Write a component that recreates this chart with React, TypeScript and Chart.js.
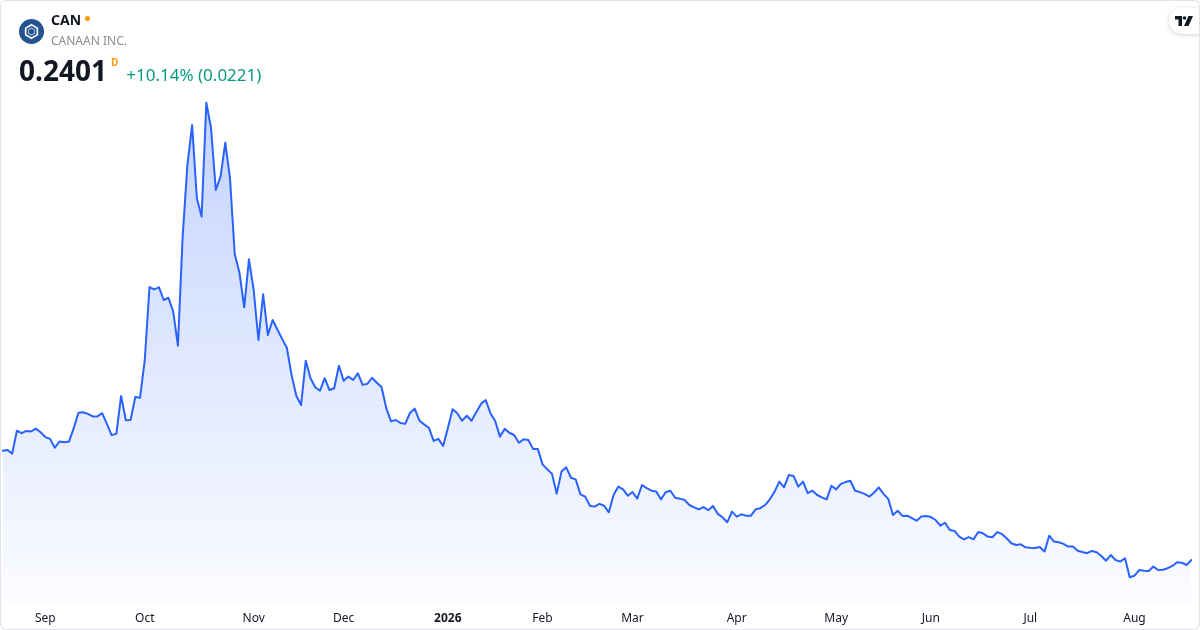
import { useEffect, useRef } from "react"
import { Chart, registerables } from "chart.js"

Chart.register(...registerables)

const FONT = "'Noto Sans', 'Open Sans', sans-serif"

// first session on the chart and the US market holidays inside the range
const firstSession = "2025-08-19"
const holidays = [
  "2025-09-01", "2025-11-27", "2025-12-25", "2026-01-01", "2026-01-19",
  "2026-02-16", "2026-04-03", "2026-05-25", "2026-06-19", "2026-07-03",
]

// daily closes, CAN
const prices = [
  0.721, 0.724, 0.708, 0.809, 0.798, 0.808, 0.806, 0.818, 0.802, 0.781,
  0.773, 0.734, 0.761, 0.758, 0.761, 0.820, 0.888, 0.890, 0.883, 0.872,
  0.872, 0.886, 0.839, 0.790, 0.795, 0.962, 0.855, 0.856, 0.957, 0.954,
  1.120, 1.441, 1.431, 1.440, 1.384, 1.394, 1.333, 1.183, 1.663, 1.978,
  2.154, 1.832, 1.751, 2.252, 2.140, 1.868, 1.927, 2.076, 1.920, 1.585,
  1.504, 1.352, 1.563, 1.428, 1.208, 1.409, 1.230, 1.296, 1.254, 1.213,
  1.174, 1.054, 0.963, 0.922, 1.117, 1.040, 1.000, 0.985, 1.040, 0.988,
  0.996, 1.095, 1.029, 1.047, 1.032, 1.062, 1.011, 1.015, 1.042, 1.020,
  1.001, 0.908, 0.850, 0.856, 0.843, 0.839, 0.887, 0.906, 0.853, 0.837,
  0.822, 0.764, 0.773, 0.742, 0.820, 0.903, 0.886, 0.853, 0.875, 0.853,
  0.890, 0.927, 0.944, 0.886, 0.852, 0.783, 0.817, 0.800, 0.790, 0.756,
  0.771, 0.768, 0.729, 0.729, 0.661, 0.639, 0.619, 0.532, 0.629, 0.648,
  0.602, 0.595, 0.529, 0.519, 0.479, 0.475, 0.487, 0.479, 0.450, 0.526,
  0.563, 0.551, 0.523, 0.539, 0.510, 0.570, 0.556, 0.545, 0.542, 0.507,
  0.538, 0.545, 0.514, 0.510, 0.504, 0.482, 0.472, 0.463, 0.473, 0.459,
  0.478, 0.443, 0.428, 0.406, 0.453, 0.431, 0.441, 0.435, 0.435, 0.463,
  0.468, 0.482, 0.507, 0.541, 0.585, 0.560, 0.614, 0.610, 0.563, 0.585,
  0.534, 0.545, 0.526, 0.516, 0.507, 0.567, 0.551, 0.575, 0.583, 0.589,
  0.545, 0.539, 0.531, 0.519, 0.536, 0.560, 0.531, 0.509, 0.438, 0.457,
  0.434, 0.435, 0.424, 0.413, 0.431, 0.434, 0.429, 0.416, 0.391, 0.404,
  0.372, 0.368, 0.343, 0.331, 0.341, 0.331, 0.363, 0.358, 0.343, 0.340,
  0.363, 0.355, 0.336, 0.314, 0.306, 0.309, 0.296, 0.294, 0.293, 0.297,
  0.277, 0.347, 0.321, 0.318, 0.311, 0.299, 0.299, 0.281, 0.275, 0.270,
  0.280, 0.274, 0.258, 0.237, 0.262, 0.240, 0.233, 0.248, 0.164, 0.171,
  0.196, 0.193, 0.192, 0.211, 0.196, 0.197, 0.204, 0.214, 0.230, 0.228,
  0.218, 0.2401,
]

const ticker = "CAN"
const companyName = "CANAAN INC."
const lastPrice = "0.2401"
const changeText = "+10.14% (0.0221)"

const monthNames = ["Jan", "Feb", "Mar", "Apr", "May", "Jun", "Jul", "Aug", "Sep", "Oct", "Nov", "Dec"]

function tradingDays(start: string, count: number) {
  const out: Date[] = []
  const d = new Date(start + "T00:00:00Z")
  while (out.length < count) {
    const wd = d.getUTCDay()
    const iso = d.toISOString().slice(0, 10)
    if (wd !== 0 && wd !== 6 && !holidays.includes(iso)) out.push(new Date(d))
    d.setUTCDate(d.getUTCDate() + 1)
  }
  return out
}

const sessions = tradingDays(firstSession, prices.length)
const categories = sessions.map((d) => d.toISOString().slice(0, 10))

function PriceChart() {
  const canvasRef = useRef<HTMLCanvasElement>(null)
  const chartRef = useRef<Chart | null>(null)

  useEffect(() => {
    if (!canvasRef.current) return
    if (chartRef.current) chartRef.current.destroy()

    chartRef.current = new Chart(canvasRef.current, {
      type: "line",
      data: {
        labels: categories,
        datasets: [
          {
            data: prices,
            borderColor: "#2962ff",
            borderWidth: 2,
            borderJoinStyle: "round",
            borderCapStyle: "round",
            pointRadius: 0,
            tension: 0,
            fill: "start",
            backgroundColor: (ctx: any) => {
              const { chart } = ctx
              const area = chart.chartArea
              if (!area) return "rgba(41, 98, 255, 0.12)"
              const g = chart.ctx.createLinearGradient(0, area.top, 0, area.bottom)
              g.addColorStop(0, "rgba(41, 98, 255, 0.33)")
              g.addColorStop(1, "rgba(41, 98, 255, 0.02)")
              return g
            },
          },
        ],
      },
      options: {
        animation: false,
        responsive: true,
        maintainAspectRatio: false,
        layout: { padding: { left: 2.7, right: 8.7, top: 0, bottom: 0 } },
        plugins: {
          legend: { display: false },
          tooltip: { enabled: false },
        },
        scales: {
          x: {
            type: "category",
            offset: false,
            grid: { display: false, drawTicks: false },
            border: { display: false },
            afterFit: (scale: any) => {
              scale.height = 27
            },
            ticks: {
              autoSkip: false,
              maxRotation: 0,
              padding: 8,
              color: "#131722",
              font: (c: any) => ({
                family: FONT,
                size: 12,
                weight: c.tick && c.tick.label === "2026" ? "bold" : "normal",
              }),
              callback: (_v: any, i: number) => {
                const d = sessions[i]
                const prev = sessions[i - 1]
                if (!d || !prev || d.getUTCMonth() === prev.getUTCMonth()) return null
                return d.getUTCMonth() === 0 ? String(d.getUTCFullYear()) : monthNames[d.getUTCMonth()]
              },
            },
          },
          y: {
            display: false,
            min: 0.0509,
            max: 2.7041,
          },
        },
      },
    })

    return () => {
      if (chartRef.current) {
        chartRef.current.destroy()
        chartRef.current = null
      }
    }
  }, [])

  return <canvas ref={canvasRef} />
}

function Header() {
  return (
    <div style={{ position: "absolute", left: 0, top: 0, fontFamily: FONT, color: "#131722" }}>
      <svg width="25" height="25" viewBox="0 0 24 24" style={{ position: "absolute", left: 19, top: 19 }}>
        <circle cx="12" cy="12" r="12" fill="#24548f" />
        <polygon points="12,5.5 17.6,8.75 17.6,15.25 12,18.5 6.4,15.25 6.4,8.75" fill="none" stroke="#ffffff" strokeWidth="1.6" />
        <polygon points="12,8.6 14.9,10.3 14.9,13.7 12,15.4 9.1,13.7 9.1,10.3" fill="none" stroke="#9fb8d8" strokeWidth="1" />
      </svg>
      <div style={{ position: "absolute", left: 51, top: 10, fontSize: 14, fontWeight: 700, whiteSpace: "nowrap", lineHeight: "20px" }}>
        {ticker}
        <span
          style={{
            display: "inline-block",
            width: 5,
            height: 5,
            borderRadius: "50%",
            background: "#ff9800",
            marginLeft: 4,
            verticalAlign: "middle",
            position: "relative",
            top: -3,
          }}
        />
      </div>
      <div style={{ position: "absolute", left: 51, top: 32, fontSize: 12, color: "#8a8d96", whiteSpace: "nowrap", lineHeight: "18px" }}>
        {companyName}
      </div>
      <div style={{ position: "absolute", left: 19, top: 52, whiteSpace: "nowrap", display: "flex", alignItems: "baseline" }}>
        <span style={{ fontSize: 28, fontWeight: 700, lineHeight: "37px" }}>{lastPrice}</span>
        <span style={{ fontSize: 10, fontWeight: 700, color: "#ff9800", position: "relative", top: -15, marginLeft: 4 }}>D</span>
        <span style={{ fontSize: 17, color: "#089981", marginLeft: 8 }}>{changeText}</span>
      </div>
    </div>
  )
}

function Badge() {
  return (
    <div
      style={{
        position: "absolute",
        left: 1169,
        top: 8,
        width: 40,
        height: 26,
        background: "#ffffff",
        borderRadius: 13,
        boxShadow: "0 1px 5px rgba(0,0,0,0.18)",
      }}
    >
      <svg width="18" height="10" viewBox="0 0 36 20" style={{ position: "absolute", left: 6, top: 8 }}>
        <path d="M0 0 H14 V20 H7 V7 H0 Z" fill="#131722" />
        <circle cx="19" cy="4" r="3.6" fill="#131722" />
        <path d="M27 0 H36 L27 20 H18 Z" fill="#131722" />
      </svg>
    </div>
  )
}

export default function App() {
  return (
    <div
      style={{
        position: "absolute",
        left: 0,
        top: 0,
        width: 1200,
        height: 630,
        background: "#ffffff",
        overflow: "hidden",
      }}
    >
      <div style={{ position: "absolute", inset: 0 }}>
        <PriceChart />
      </div>
      <Header />
      <Badge />
      <div
        style={{
          position: "absolute",
          inset: 0,
          border: "1px solid #e0e3eb",
          borderRadius: 6,
          pointerEvents: "none",
        }}
      />
    </div>
  )
}
